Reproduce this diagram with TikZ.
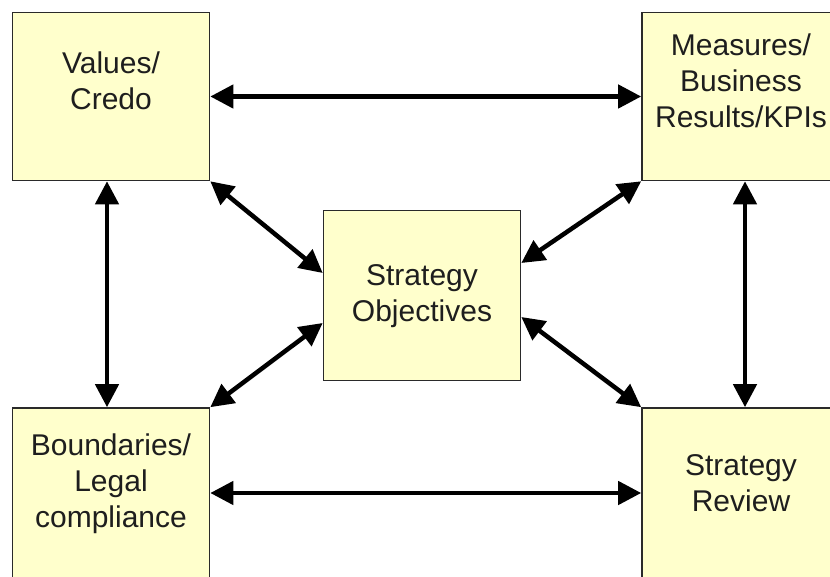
\documentclass[tikz,border=0pt]{standalone}
\usepackage{fontspec}
\setmainfont{Liberation Sans}
\usetikzlibrary{arrows.meta}
\definecolor{boxfill}{HTML}{FFFFCC}
\definecolor{boxline}{HTML}{2A2A2A}
\definecolor{txt}{HTML}{1E1E1E}
\begin{document}
\begin{tikzpicture}[x=1pt,y=-1pt,
  box/.style={draw=boxline, fill=boxfill, line width=1.6pt, minimum width=197pt, minimum height=168pt, inner sep=0pt},
  lbl/.style={align=center, text=txt, font=\fontsize{30}{36}\selectfont, inner sep=0pt},
  conn/.style={line width=4.5pt, {Triangle[length=23pt,width=23pt]}-{Triangle[length=23pt,width=23pt]}}]
\useasboundingbox (0,0) rectangle (830,577);
\clip (0,0) rectangle (830,577);
\fill[white] (0,0) rectangle (830,577);
\node[box] (tl) at (111,96.5) {};
\node[box, minimum width=240pt] (tr) at (762,96.5) {};
\node[box] (c) at (422,295.5) [minimum height=170pt] {};
\node[box, minimum height=180pt] (bl) at (111,498) {};
\node[box, minimum width=240pt, minimum height=180pt] (br) at (762,498) {};
\node[lbl] (tlt) at (111,81) {Values/\\Credo};
\node[lbl] (trt) at (741,81) {Measures/\\Business\\Results/KPIs};
\node[lbl] (ct) at (422,296) {Strategy\\Objectives};
\node[lbl] (blt) at (111,484) {Boundaries/\\Legal\\compliance};
\node[lbl] (brt) at (741,483) {Strategy\\Review};
\draw[conn] (tl.east) -- (tr.west);
\draw[conn] ([yshift=5pt]bl.east) -- ([yshift=5pt]br.west);
\draw[conn] ([xshift=-4pt]tl.south) -- ([xshift=-4pt]bl.north);
\draw[conn] ([xshift=-17pt]tr.south) -- ([xshift=-17pt]br.north);
\draw[conn] (tl.south east) -- ([yshift=22.5pt]c.west);
\draw[conn] (bl.north east) -- ([yshift=-27.5pt]c.west);
\draw[conn] (tr.south west) -- ([yshift=32.5pt]c.east);
\draw[conn] (br.north west) -- ([yshift=-21.5pt]c.east);
\end{tikzpicture}
\end{document}
